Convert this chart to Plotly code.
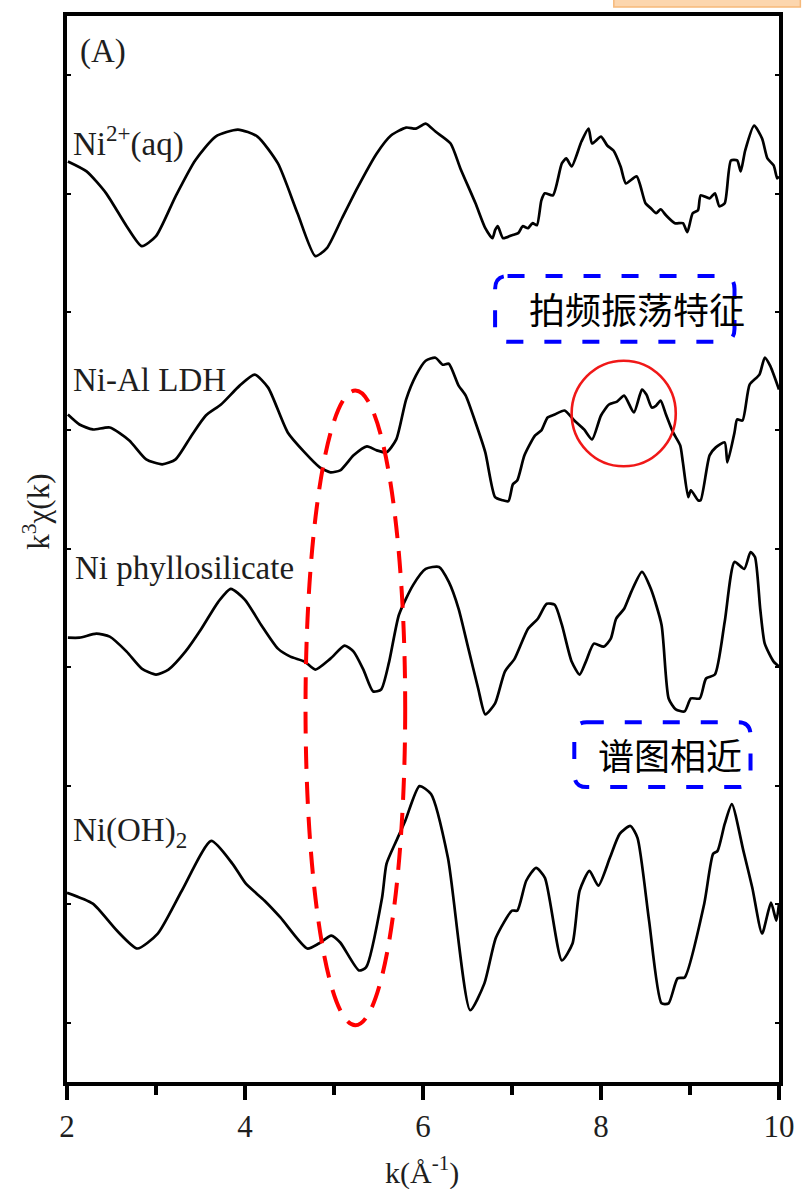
import plotly.graph_objects as go

# ---------------- data ----------------
k_aq = [2.01, 2.22, 2.44, 2.67, 2.84, 3.00, 3.22, 3.44, 3.67, 3.92, 4.14, 4.37, 4.59, 4.79, 4.92, 5.09,
        5.26, 5.48, 5.64, 5.81, 5.92, 6.03, 6.14, 6.31, 6.42, 6.59, 6.70, 6.78, 6.81, 6.84, 6.90, 7.00,
        7.07, 7.12, 7.18, 7.23, 7.28, 7.33, 7.37, 7.46, 7.56, 7.61, 7.67, 7.78, 7.86, 7.90, 8.00, 8.07,
        8.14, 8.22, 8.28, 8.40, 8.50, 8.56, 8.62, 8.67, 8.73, 8.83, 8.92, 8.97, 9.03, 9.09, 9.12, 9.22,
        9.28, 9.33, 9.39, 9.46, 9.53, 9.57, 9.62, 9.72, 9.81, 9.87, 9.94, 9.98, 10.0]
chi_aq = [3.2, 2.2, 0.0, -3.3, -5.3, -4.3, -0.3, 3.3, 5.7, 6.4, 5.7, 3.0, -2.0, -6.3, -5.5, -2.5,
          0.5, 4.0, 5.8, 6.6, 6.5, 7.0, 6.2, 5.0, 2.5, -1.0, -3.5, -4.5, -3.7, -3.3, -4.5, -4.2,
          -4.0, -3.3, -3.5, -3.0, -3.2, -0.7, 0.0, -0.2, 3.0, 3.5, 2.7, 5.2, 6.5, 5.0, 5.7, 4.8,
          4.3, 2.7, 1.0, 1.7, -1.0, -1.5, -2.0, -1.6, -2.2, -3.0, -3.0, -3.9, -2.0, -1.7, -0.2, -0.5,
          0.0, -1.3, -1.0, 3.3, 3.3, 2.2, 4.3, 6.8, 5.5, 3.5, 2.8, 1.5, 1.7]

k_ldh = [2.01, 2.14, 2.29, 2.48, 2.70, 2.89, 3.07, 3.22, 3.40, 3.56, 3.73, 3.94, 4.11, 4.26, 4.48, 4.67,
         4.84, 4.96, 5.07, 5.22, 5.37, 5.48, 5.59, 5.70, 5.81, 5.92, 6.03, 6.14, 6.22, 6.29, 6.40, 6.48,
         6.59, 6.70, 6.81, 6.89, 6.96, 7.01, 7.06, 7.14, 7.26, 7.33, 7.40, 7.48, 7.59, 7.70, 7.81, 7.90,
         8.00, 8.09, 8.18, 8.26, 8.37, 8.46, 8.51, 8.57, 8.62, 8.67, 8.73, 8.81, 8.89, 8.92, 8.98, 9.01,
         9.09, 9.12, 9.22, 9.29, 9.39, 9.42, 9.50, 9.53, 9.59, 9.67, 9.78, 9.84, 9.90, 10.0]
chi_ldh = [1.8, 0.8, 0.3, 0.5, -0.8, -2.7, -3.2, -2.7, -0.3, 1.7, 2.8, 4.7, 5.8, 4.5, 0.0, -2.0,
           -3.5, -4.0, -3.8, -2.3, -1.4, -1.8, -2.0, -0.7, 3.3, 5.7, 7.2, 7.5, 6.8, 6.9, 4.7, 3.7,
           1.0, -2.0, -6.5, -6.8, -6.9, -5.2, -4.8, -2.3, -0.3, 0.2, 1.5, 1.8, 2.2, 1.2, 0.3, -0.7,
           1.7, 2.8, 3.1, 3.7, 2.0, 4.3, 3.8, 2.5, 2.7, 3.2, 1.8, 0.0, -1.3, -3.0, -6.5, -5.8,
           -6.8, -6.8, -2.3, -1.5, -1.0, -3.0, 0.0, 1.3, 1.2, 4.8, 5.8, 7.5, 6.7, 4.3]

k_phy = [2.01, 2.14, 2.33, 2.48, 2.67, 2.84, 3.00, 3.14, 3.33, 3.51, 3.70, 3.84, 4.00, 4.18, 4.37, 4.51,
         4.67, 4.79, 4.96, 5.12, 5.22, 5.33, 5.44, 5.53, 5.62, 5.73, 5.89, 6.03, 6.18, 6.29, 6.40, 6.51,
         6.62, 6.70, 6.81, 6.92, 7.03, 7.18, 7.29, 7.39, 7.48, 7.56, 7.67, 7.76, 7.83, 7.92, 8.03, 8.11,
         8.17, 8.26, 8.34, 8.46, 8.56, 8.68, 8.76, 8.84, 8.94, 9.01, 9.11, 9.18, 9.28, 9.39, 9.50, 9.61,
         9.68, 9.73, 9.79, 9.84, 9.94, 10.0]
chi_phy = [0.4, 0.4, 0.8, 0.5, -1.0, -2.7, -3.3, -2.8, -1.0, 1.3, 4.0, 5.3, 4.2, 1.7, -0.7, -1.5,
           -2.0, -2.8, -1.7, -0.4, -1.0, -2.8, -5.0, -4.8, -2.0, 2.7, 5.7, 7.3, 7.5, 6.0, 3.3, -0.7,
           -4.7, -7.3, -6.2, -3.0, -1.7, 1.3, 2.3, 3.8, 3.7, 1.7, -2.0, -3.3, -2.0, -0.2, -0.5, 0.3,
           2.3, 3.3, 5.0, 7.0, 5.3, 1.7, -5.7, -6.8, -7.0, -5.7, -5.7, -3.7, -3.3, 2.0, 8.0, 7.3,
           9.0, 8.5, 3.2, -0.2, -2.0, -2.5]

k_oh = [2.00, 2.29, 2.56, 2.79, 3.02, 3.29, 3.62, 3.86, 4.01, 4.22, 4.40, 4.70, 4.83, 4.97, 5.07, 5.28,
        5.36, 5.54, 5.59, 5.70, 5.80, 5.96, 6.09, 6.28, 6.53, 6.69, 6.82, 7.00, 7.06, 7.16, 7.27, 7.37,
        7.56, 7.68, 7.76, 7.87, 7.97, 8.10, 8.21, 8.33, 8.41, 8.54, 8.68, 8.76, 8.86, 8.94, 9.16, 9.26,
        9.31, 9.39, 9.47, 9.60, 9.70, 9.81, 9.91, 9.97, 10.0]
chi_oh = [0.8, -0.3, -3.0, -4.8, -3.3, 1.0, 6.0, 3.7, 1.7, 0.0, -1.7, -4.8, -4.3, -3.5, -4.2, -7.0,
          -6.7, 0.3, 3.7, 6.0, 8.0, 11.5, 10.7, 4.3, -11.0, -8.3, -3.7, -1.0, -1.0, 2.0, 3.3, 2.3,
          -6.0, -4.3, 1.0, 3.0, 1.5, 4.3, 6.7, 7.5, 6.3, -2.0, -10.3, -10.3, -7.8, -7.7, -0.3, 4.7,
          5.0, 7.7, 9.7, 5.0, 1.3, -3.3, -0.2, -2.0, -0.3]

series_names = ["Ni2+(aq)", "Ni-Al LDH", "Ni phyllosilicate", "Ni(OH)2"]
series_k = [k_aq, k_ldh, k_phy, k_oh]
series_chi = [chi_aq, chi_ldh, chi_phy, chi_oh]
offsets = [89.2, 65.2, 44.2, 18.2]
label_texts = ["Ni<sup>2+</sup>(aq)", "Ni-Al LDH", "Ni phyllosilicate", "Ni(OH)<sub>2</sub>"]

x_tickvals = [2, 4, 6, 8, 10]
x_ticktext = ["2", "4", "6", "8", "10"]

# ---------------- figure ----------------
fig = go.Figure()
for name, kk, cc, off in zip(series_names, series_k, series_chi, offsets):
    fig.add_trace(go.Scatter(x=kk, y=[v + off for v in cc], mode="lines", name=name,
                             line=dict(color="black", width=2.7, shape="spline", smoothing=0.6),
                             showlegend=False))

serif = "Liberation Serif, Times New Roman, serif"
cjk = "Noto Sans CJK SC"
txt = "#1e1e1e"

annos = []
annos.append(dict(x=2.12, y=103.4, xref="x", yref="y", text="(A)", showarrow=False,
                  xanchor="left", yanchor="middle", font=dict(family=serif, size=33, color=txt)))
label_pos = [(2.04, 92.0, "bottom"), (2.04, 70.5, "middle"), (2.07, 51.6, "middle"), (2.04, 25.0, "middle")]
for t, (lx, ly, ya) in zip(label_texts, label_pos):
    annos.append(dict(x=lx, y=ly, xref="x", yref="y", text=t, showarrow=False,
                      xanchor="left", yanchor=ya, font=dict(family=serif, size=33, color=txt)))
annos.append(dict(x=8.40, y=77.7, xref="x", yref="y", text="拍频振荡特征", showarrow=False,
                  xanchor="center", yanchor="middle", font=dict(family=cjk, size=36, color="black")))
annos.append(dict(x=8.78, y=32.9, xref="x", yref="y", text="谱图相近", showarrow=False,
                  xanchor="center", yanchor="middle", font=dict(family=cjk, size=36, color="black")))
annos.append(dict(x=-0.042, y=0.535, xref="paper", yref="paper", text="k<sup>3</sup>χ(k)",
                  showarrow=False, textangle=-90, xanchor="center", yanchor="middle",
                  font=dict(family=serif, size=31, color=txt)))
annos.append(dict(x=5.99, y=-0.083, xref="x", yref="paper", text="k(Å<sup>-1</sup>)",
                  showarrow=False, xanchor="center", yanchor="middle",
                  font=dict(family=serif, size=30, color=txt)))


def rounded_rect(x0, x1, y0, y1, rx, ry):
    return (f"M {x0+rx},{y1} L {x1-rx},{y1} Q {x1},{y1} {x1},{y1-ry} "
            f"L {x1},{y0+ry} Q {x1},{y0} {x1-rx},{y0} L {x0+rx},{y0} "
            f"Q {x0},{y0} {x0},{y0+ry} L {x0},{y1-ry} Q {x0},{y1} {x0+rx},{y1} Z")


shapes = [
    dict(type="circle", xref="x", yref="y", x0=4.68, x1=5.80, y0=5.7, y1=69.4,
         line=dict(color="#ff0000", width=4, dash="22px,13px")),
    dict(type="circle", xref="x", yref="y", x0=7.67, x1=8.84, y0=61.8, y1=72.4,
         line=dict(color="#f01818", width=2.6)),
    dict(type="path", xref="x", yref="y", path=rounded_rect(6.81, 9.50, 74.3, 80.9, 0.14, 1.3),
         line=dict(color="#0000ff", width=4, dash="17px,21px")),
    dict(type="path", xref="x", yref="y", path=rounded_rect(7.70, 9.68, 29.6, 36.1, 0.14, 1.3),
         line=dict(color="#0000ff", width=4, dash="17px,21px")),
    dict(type="rect", xref="paper", yref="paper", x0=0.768, x1=1.03, y0=1.0085, y1=1.03,
         fillcolor="#fcd6ae", line=dict(color="#f6b97a", width=1.5), layer="below"),
]

fig.update_layout(
    width=807, height=1189,
    margin=dict(l=67, r=18, t=12, b=107),
    paper_bgcolor="white", plot_bgcolor="white",
    annotations=annos, shapes=shapes,
    xaxis=dict(range=[2, 10], tickvals=x_tickvals, ticktext=x_ticktext, ticks="outside",
               ticklen=14, tickwidth=3.5, tickcolor="black", showline=True, linewidth=3.5,
               linecolor="black", mirror=True, showgrid=False, zeroline=False,
               tickfont=dict(family=serif, size=31, color=txt),
               minor=dict(tickvals=[3, 5, 7, 9], ticks="outside", ticklen=9, tickwidth=3.5,
                          tickcolor="black", showgrid=False)),
    yaxis=dict(range=[0, 107], tick0=5.95, dtick=11.89, ticks="inside", ticklen=4, tickwidth=2,
               tickcolor="black", showticklabels=False, showline=True, linewidth=3.5,
               linecolor="black", mirror="ticks", showgrid=False, zeroline=False),
)

fig.write_html("out.html")
